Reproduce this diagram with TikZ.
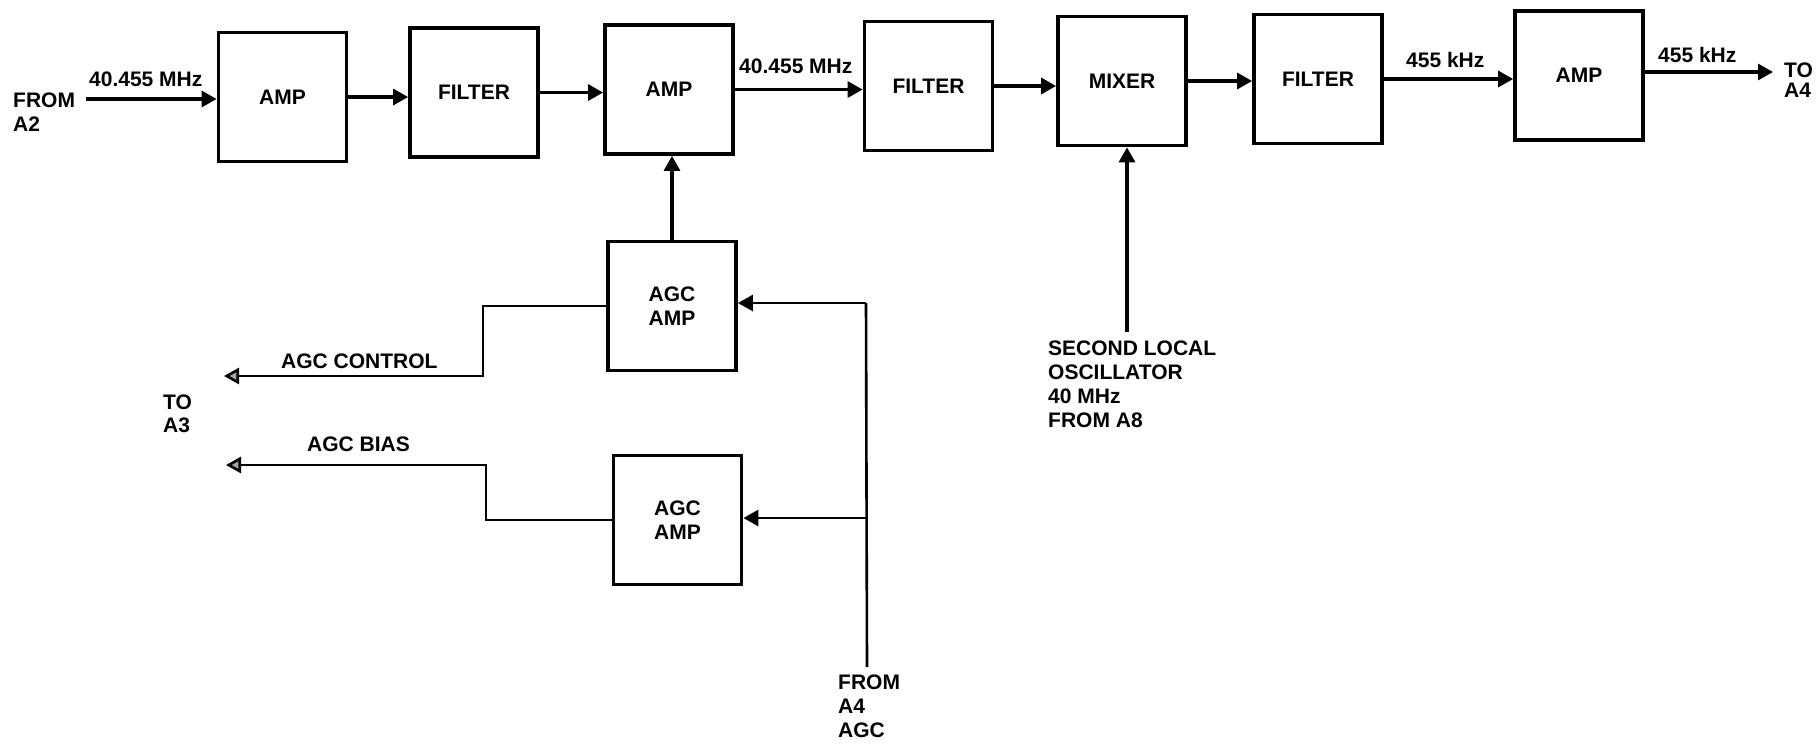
\documentclass[tikz,border=0pt]{standalone}
\usepackage{fontspec}
\setmainfont{Liberation Sans}
\usetikzlibrary{arrows.meta}
\begin{document}
\begin{tikzpicture}[x=1pt,y=-1pt,
  lblfont/.style={font=\fontsize{21}{24}\selectfont\bfseries},
  blk/.style={draw, line width=3.8pt, minimum width=128pt, minimum height=129pt,
    inner sep=0pt, align=center, lblfont},
  lbl/.style={anchor=north west, inner sep=0pt, align=left, lblfont},
  conn/.style={line width=3.2pt, -{Triangle[length=15pt,width=16pt]}},
  fine/.style={line width=2.6pt},
  finearr/.style={line width=2.6pt, -{Triangle[length=15pt,width=16pt]}},
  outarr/.style={line width=2.6pt, -{Triangle[open,length=15pt,width=16pt,fill=gray!70]}}
]
\useasboundingbox (0,0) rectangle (1820,748);

% main chain
\node[blk] (amp1) at (282.5,97) {AMP};
\node[blk] (fil1) at (474,92.5) {FILTER};
\node[blk] (amp2) at (669,89.5) {AMP};
\node[blk] (fil2) at (928.5,86) {FILTER};
\node[blk] (mix)  at (1122,81) {MIXER};
\node[blk] (fil3) at (1318,79) {FILTER};
\node[blk] (amp3) at (1579,75.5) {AMP};

% AGC amplifiers
\node[blk] (agc1) at (672,306) {AGC\\AMP};
\node[blk] (agc2) at (677.5,520) {AGC\\AMP};

% labels
\node[lbl] (froma2) at (13,93) {FROM\\A2};
\node[lbl] (f1) at (89,72) {40.455 MHz};
\node[lbl] (f2) at (739,59) {40.455 MHz};
\node[lbl] (f3) at (1406,52) {455 kHz};
\node[lbl] (f4) at (1658,47) {455 kHz};
\node[lbl, font=\fontsize{21}{20}\selectfont\bfseries] (toa4) at (1784,63) {TO\\A4};
\node[lbl] (agcctl) at (281,354) {AGC CONTROL};
\node[lbl, font=\fontsize{21}{23}\selectfont\bfseries] (toa3) at (163,395) {TO\\A3};
\node[lbl] (agcbias) at (307,437) {AGC BIAS};
\node[lbl] (lo) at (1048,341) {SECOND LOCAL\\OSCILLATOR\\40 MHz\\FROM A8};
\node[lbl] (froma4) at (838,675) {FROM\\A4\\AGC};

% coordinates for free ends
\coordinate (in) at (86,99);
\coordinate (out) at (1773,72);
\coordinate (loin) at (1127,332);
\coordinate (agcin) at (867,667);
\coordinate (j1) at (866,303);
\coordinate (j2) at (867,518);
\coordinate (c1) at (483,376);
\coordinate (t1) at (224,376);
\coordinate (c2) at (486,465);
\coordinate (t2) at (226,465);

% main connectors
\draw[conn] (in) -- (in -| amp1.west);
\draw[conn] (amp1.east) -- (amp1.east -| fil1.west);
\draw[conn] (fil1.east) -- (fil1.east -| amp2.west);
\draw[conn] (amp2.east) -- (amp2.east -| fil2.west);
\draw[conn] (fil2.east) -- (fil2.east -| mix.west);
\draw[conn] (mix.east) -- (mix.east -| fil3.west);
\draw[conn] (fil3.east) -- (fil3.east -| amp3.west);
\draw[conn] (amp3.east |- out) -- (out);

% vertical feeds
\draw[conn] (agc1.north) -- (agc1.north |- amp2.south);
\draw[conn] (loin) -- (loin |- mix.south);

% AGC input from A4
\draw[fine] (agcin) -- (j1);
\draw[finearr] (j1) -- (j1 -| agc1.east);
\draw[finearr] (j2) -- (j2 -| agc2.east);

% outputs to A3
\draw[outarr] (agc1.west) -| (c1) -- (t1);
\draw[outarr] (agc2.west) -| (c2) -- (t2);
\end{tikzpicture}
\end{document}
